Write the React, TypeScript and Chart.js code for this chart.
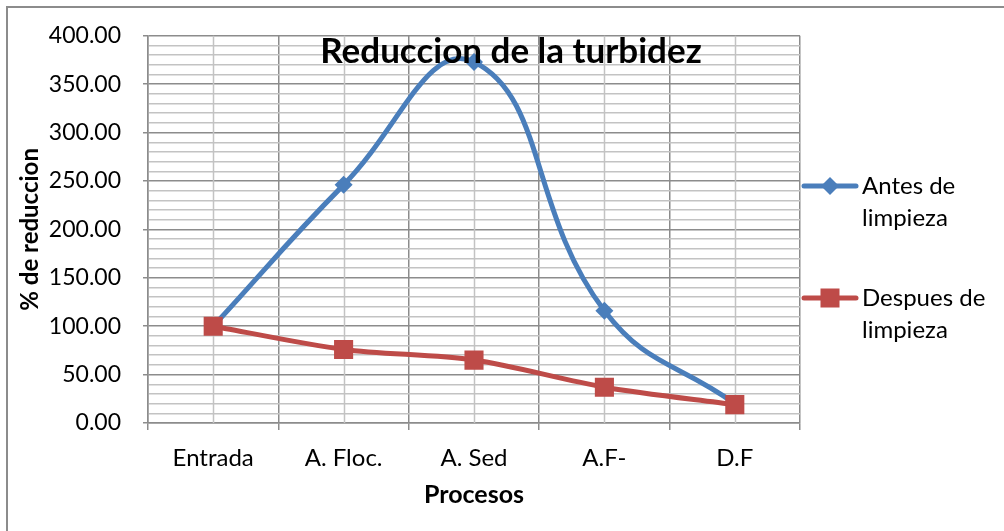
import React, { useEffect, useRef } from "react";
import { Chart, registerables } from "chart.js";

Chart.register(...registerables);

const categories = ["Entrada", "A. Floc.", "A. Sed", "A.F-", "D.F"];
const antes = [100, 246, 373, 116, 20];
const despues = [100, 76, 65, 37, 19];
const seriesNames = ["Antes de\nlimpieza", "Despues de\nlimpieza"];
const chartTitle = "Reduccion de la turbidez";
const yTitle = "% de reduccion";
const xTitle = "Procesos";

const FONT = "Lato, 'Open Sans', sans-serif";
const BLUE = "#4A7EBB";
const RED = "#BE4B48";

const framePlugin = {
  id: "frame",
  beforeDraw(chart: any) {
    const { ctx } = chart;
    ctx.save();
    ctx.fillStyle = "#ffffff";
    ctx.fillRect(0, 0, chart.width, chart.height);
    ctx.strokeStyle = "#8c8c8c";
    ctx.lineWidth = 2;
    ctx.beginPath();
    ctx.moveTo(7, chart.height);
    ctx.lineTo(7, 7);
    ctx.lineTo(chart.width, 7);
    ctx.stroke();
    ctx.restore();
  },
  beforeDatasetsDraw(chart: any) {
    const { ctx, chartArea } = chart;
    const x = chart.scales.x;
    ctx.save();
    ctx.strokeStyle = "#c3c3c3";
    ctx.lineWidth = 1.5;
    for (let i = 0; i < categories.length; i++) {
      const px = Math.round(x.getPixelForValue(i)) + 0.5;
      ctx.beginPath();
      ctx.moveTo(px, chartArea.top);
      ctx.lineTo(px, chartArea.bottom);
      ctx.stroke();
    }
    ctx.restore();
  },
  afterDraw(chart: any) {
    const { ctx } = chart;
    ctx.save();
    ctx.fillStyle = "#000";
    ctx.font = `bold 35px ${FONT}`;
    ctx.textAlign = "center";
    ctx.textBaseline = "middle";
    ctx.fillText(chartTitle, 511, 52);
    const rows = [186, 298];
    chart.data.datasets.forEach((ds: any, i: number) => {
      const y = rows[i];
      ctx.strokeStyle = ds.borderColor;
      ctx.lineWidth = 5;
      ctx.lineCap = "round";
      ctx.beginPath();
      ctx.moveTo(804, y);
      ctx.lineTo(856, y);
      ctx.stroke();
      ctx.fillStyle = ds.backgroundColor;
      if (ds.pointStyle === "rectRot") {
        ctx.beginPath();
        ctx.moveTo(830 - 9, y);
        ctx.lineTo(830, y - 9);
        ctx.lineTo(830 + 9, y);
        ctx.lineTo(830, y + 9);
        ctx.closePath();
        ctx.fill();
      } else {
        ctx.fillRect(830 - 9.5, y - 9.5, 19, 19);
      }
      ctx.fillStyle = "#000";
      ctx.font = `24px ${FONT}`;
      ctx.textAlign = "left";
      ctx.textBaseline = "middle";
      const lines = String(ds.label).split("\n");
      lines.forEach((t: string, j: number) => ctx.fillText(t, 862, y + j * 32));
    });
    ctx.restore();
  },
};

export default function App() {
  const ref = useRef<HTMLCanvasElement>(null);
  useEffect(() => {
    if (!ref.current) return;
    const chart = new Chart(ref.current, {
      type: "line",
      data: {
        labels: categories,
        datasets: [
          {
            label: seriesNames[0],
            data: antes,
            borderColor: BLUE,
            backgroundColor: BLUE,
            borderWidth: 5,
            pointStyle: "rectRot",
            pointRadius: 9,
            pointBorderWidth: 0,
            tension: 0.45,
            order: 1,
          },
          {
            label: seriesNames[1],
            data: despues,
            borderColor: RED,
            backgroundColor: RED,
            borderWidth: 5,
            pointStyle: "rect",
            pointRadius: 13.5,
            pointBorderWidth: 0,
            tension: 0.3,
            order: 0,
          },
        ],
      },
      options: {
        responsive: false,
        animation: false,
        layout: { padding: { left: 0, top: 35, right: 204, bottom: 0 } },
        plugins: {
          legend: { display: false },
          title: { display: false },
          tooltip: { enabled: false },
        },
        scales: {
          x: {
            type: "category",
            offset: true,
            afterFit: (s: any) => { s.height = 108; },
            grid: {
              offset: true,
              color: "#8c8c8c",
              lineWidth: 1.5,
              tickLength: 7,
              tickColor: "#8c8c8c",
            },
            border: { color: "#8c8c8c", width: 1.5 },
            ticks: {
              color: "#000",
              font: { family: FONT, size: 24 },
              padding: 14,
              maxRotation: 0,
            },
            title: {
              display: true,
              text: xTitle,
              color: "#000",
              font: { family: FONT, size: 25, weight: "bold" },
              padding: { top: 0, bottom: 21 },
            },
          },
          y: {
            min: 0,
            max: 400,
            afterFit: (s: any) => { s.width = 148; },
            grid: {
              color: (c: any) => (c.tick && c.tick.value % 50 === 0 ? "#8c8c8c" : "#c3c3c3"),
              tickColor: (c: any) => (c.tick && c.tick.value % 50 === 0 ? "#8c8c8c" : "rgba(0,0,0,0)"),
              lineWidth: 1.5,
              tickLength: 5,
            },
            border: { color: "#8c8c8c", width: 1.5 },
            ticks: {
              stepSize: 10,
              autoSkip: false,
              color: "#000",
              font: { family: FONT, size: 23 },
              padding: 22,
              callback: (v: any) => (Number(v) % 50 === 0 ? Number(v).toFixed(2) : ""),
            },
            title: {
              display: true,
              text: yTitle,
              color: "#000",
              font: { family: FONT, size: 24, weight: "bold" },
              padding: { top: 16, bottom: 0 },
            },
          },
        },
      },
      plugins: [framePlugin],
    });
    return () => chart.destroy();
  }, []);
  return (
    <div style={{ position: "absolute", left: 0, top: 0, width: 1004, height: 531 }}>
      <canvas ref={ref} width={1004} height={531} />
    </div>
  );
}
